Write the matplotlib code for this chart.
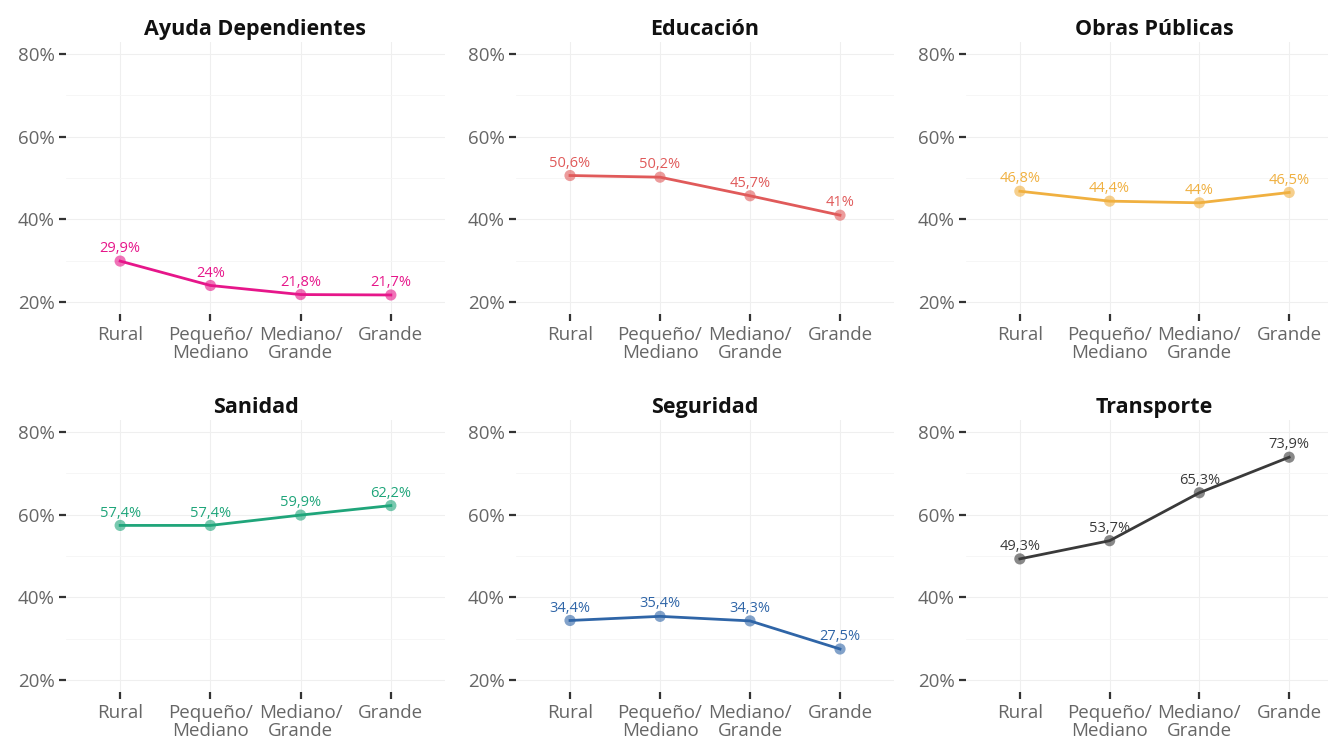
import matplotlib
matplotlib.use("Agg")
import matplotlib.pyplot as plt
from matplotlib.ticker import FixedLocator

plt.rcParams['font.family'] = ['Open Sans', 'DejaVu Sans']

categories = ["Rural", "Pequeño/\nMediano", "Mediano/\nGrande", "Grande"]
titles = ["Ayuda Dependientes", "Educación", "Obras Públicas",
          "Sanidad", "Seguridad", "Transporte"]
ayuda = [29.9, 24.0, 21.8, 21.7]
educacion = [50.6, 50.2, 45.7, 41.0]
obras = [46.8, 44.4, 44.0, 46.5]
sanidad = [57.4, 57.4, 59.9, 62.2]
seguridad = [34.4, 35.4, 34.3, 27.5]
transporte = [49.3, 53.7, 65.3, 73.9]
series = [ayuda, educacion, obras, sanidad, seguridad, transporte]
colors = ["#E6168A", "#E05A5A", "#F0B040", "#1FA57A", "#2F65A7", "#3A3A3A"]
yticks = [20, 40, 60, 80]
yminor = [30, 50, 70]

W, H = 1328, 743
fig = plt.figure(figsize=(W / 100, H / 100), dpi=100)
fig.patch.set_facecolor("white")

cols = [(66, 445), (516, 894), (966, 1343)]
rows = [(41.6, 314.4), (419.6, 692.4)]

def fmt(v):
    s = ("%.1f" % v).rstrip("0").rstrip(".")
    return s.replace(".", ",") + "%"

for i, (title, vals, col) in enumerate(zip(titles, series, colors)):
    r, c = divmod(i, 3)
    x0, x1 = cols[c]
    y0, y1 = rows[r]
    ax = fig.add_axes([x0 / W, 1 - y1 / H, (x1 - x0) / W, (y1 - y0) / H])
    xs = list(range(len(categories)))
    ax.set_xlim(-0.6, 3.6)
    ax.set_ylim(17, 83)
    for s in ax.spines.values():
        s.set_visible(False)
    ax.set_yticks(yticks)
    ax.yaxis.set_minor_locator(FixedLocator(yminor))
    ax.set_yticklabels([f"{t}%" for t in yticks])
    ax.set_xticks(xs)
    ax.set_xticklabels(categories, linespacing=1.05)
    ax.grid(True, which="major", color="#EFEFEF", linewidth=0.8)
    ax.grid(True, which="minor", axis="y", color="#F5F5F5", linewidth=0.6)
    ax.tick_params(axis="y", which="major", length=5, width=1.6, color="#333333",
                   labelsize=13.5, labelcolor="#666666", pad=3)
    ax.tick_params(axis="y", which="minor", length=0)
    ax.tick_params(axis="x", length=5, width=1.6, color="#333333",
                   labelsize=13.5, labelcolor="#666666", pad=3)
    ax.set_axisbelow(True)
    ax.plot(xs, vals, color=col, linewidth=2.0, zorder=3)
    ax.scatter(xs, vals, s=65, color=col, alpha=0.6, zorder=4, edgecolors="none")
    for x, v in zip(xs, vals):
        ax.annotate(fmt(v), (x, v), xytext=(0, 3.5), textcoords="offset points",
                    ha="center", va="bottom", fontsize=10.5, color=col, zorder=5)
    ax.set_title(title, fontsize=15.5, fontweight="bold", color="#111111", pad=5)

fig.savefig("out.png", dpi=100)
